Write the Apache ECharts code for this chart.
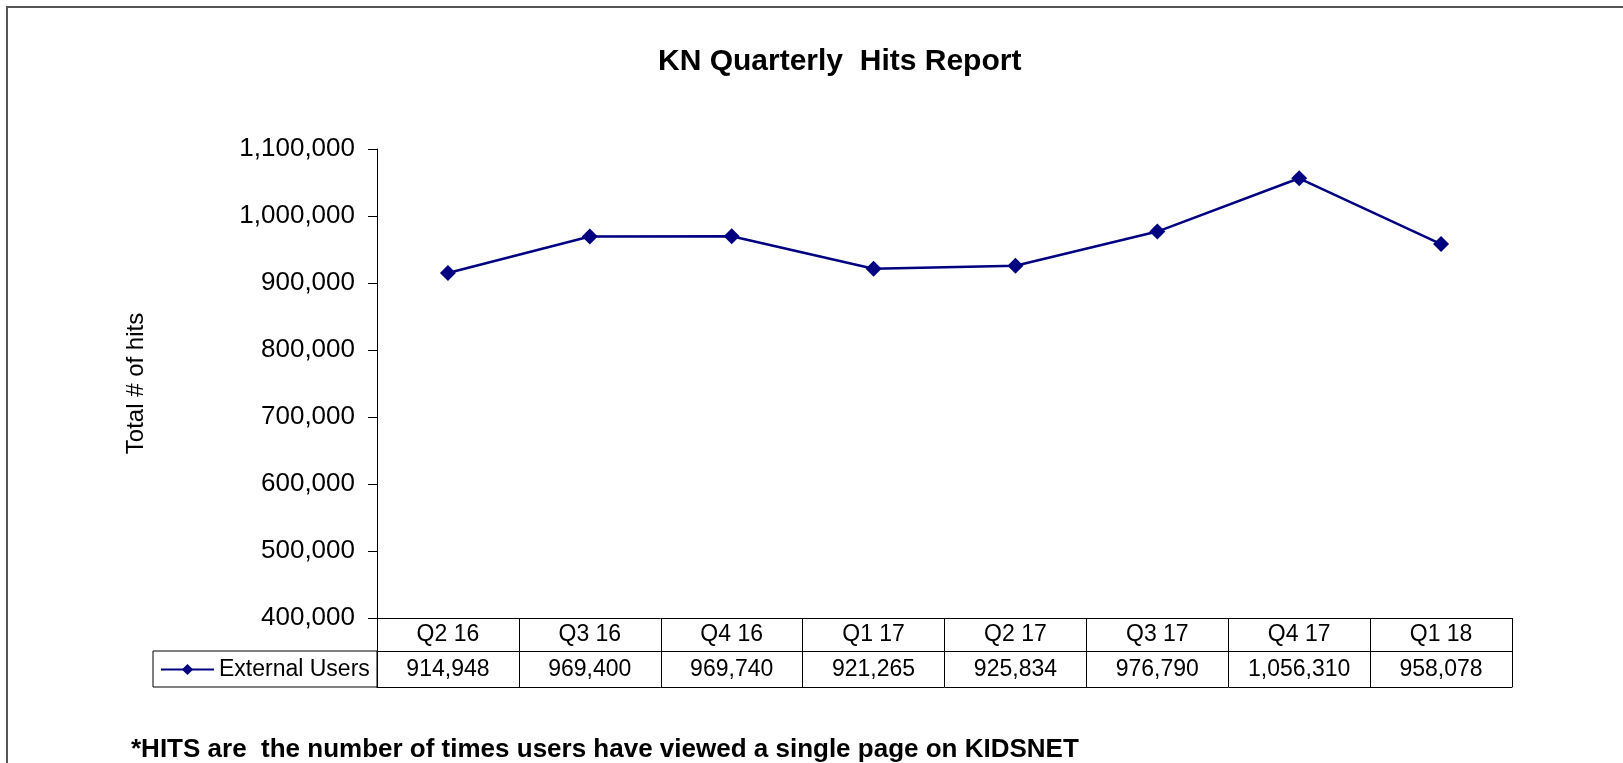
<!DOCTYPE html>
<html>
<head>
<meta charset="utf-8">
<script src="https://cdn.jsdelivr.net/npm/echarts@6/dist/echarts.min.js"></script>
<style>
  html, body { margin: 0; padding: 0; background: #fff; }
  #main { width: 1623px; height: 763px; }
</style>
</head>
<body>
<div id="main"></div>
<script>
const quarters = ['Q2 16', 'Q3 16', 'Q4 16', 'Q1 17', 'Q2 17', 'Q3 17', 'Q4 17', 'Q1 18']
const externalUsers = [914948, 969400, 969740, 921265, 925834, 976790, 1056310, 958078]
const seriesName = 'External Users'
const yMin = 400000
const yMax = 1100000
const yStep = 100000

const font = 'Arial, "Liberation Sans", sans-serif'
const fmt = (v) => v.toLocaleString('en-US')

const chart = echarts.init(document.getElementById('main'))

const option = {
  backgroundColor: '#fff',
  animation: false,
  title: [
    {
      text: 'KN Quarterly  Hits Report',
      left: 653,
      top: 42,
      textStyle: { fontFamily: font, fontSize: 30, fontWeight: 'bold', color: '#000' }
    },
    {
      text: '*HITS are  the number of times users have viewed a single page on KIDSNET',
      left: 126,
      top: 732,
      textStyle: { fontFamily: font, fontSize: 26, fontWeight: 'bold', color: '#000' }
    }
  ],
  legend: {
    data: [seriesName],
    left: 160,
    top: 658,
    padding: 0,
    itemWidth: 53,
    itemHeight: 14,
    textStyle: { fontFamily: font, fontSize: 23, color: '#000' }
  },
  grid: { left: 377, right: 111, top: 149, bottom: 145 },
  xAxis: [
    {
      type: 'category',
      data: quarters,
      position: 'bottom',
      axisLine: { show: true, lineStyle: { color: '#000', width: 1 } },
      axisTick: { show: true, length: 69, lineStyle: { color: '#000', width: 1 } },
      axisLabel: { margin: 5, fontFamily: font, fontSize: 23, color: '#000' }
    },
    {
      type: 'category',
      data: externalUsers.map(fmt),
      position: 'bottom',
      offset: 33,
      axisLine: { show: true, lineStyle: { color: '#000', width: 1 } },
      axisTick: { show: false },
      axisLabel: { margin: 7, fontFamily: font, fontSize: 23, color: '#000' }
    },
    {
      type: 'category',
      data: quarters,
      position: 'bottom',
      offset: 69,
      axisLine: { show: true, lineStyle: { color: '#000', width: 1 } },
      axisTick: { show: false },
      axisLabel: { show: false }
    }
  ],
  yAxis: {
    type: 'value',
    min: yMin,
    max: yMax,
    interval: yStep,
    name: 'Total # of hits',
    nameLocation: 'middle',
    nameRotate: 90,
    nameGap: 229,
    nameTextStyle: { fontFamily: font, fontSize: 24, color: '#000' },
    axisLine: { show: true, lineStyle: { color: '#000', width: 1 } },
    axisTick: { show: true, length: 9, lineStyle: { color: '#000' } },
    splitLine: { show: false },
    axisLabel: {
      margin: 22,
      fontFamily: font,
      fontSize: 26,
      color: '#000',
      formatter: (v) => fmt(v)
    }
  },
  series: [
    {
      name: seriesName,
      type: 'line',
      data: externalUsers,
      symbol: 'diamond',
      symbolSize: [16, 16],
      color: '#000080',
      lineStyle: { color: '#000080', width: 2.5 },
      itemStyle: { color: '#000080' }
    }
  ],
  graphic: [
    {
      type: 'rect',
      shape: { x: 153, y: 651, width: 224, height: 36 },
      style: { fill: null, stroke: '#000', lineWidth: 1 },
      silent: true
    },
    {
      type: 'rect',
      shape: { x: 7, y: 7, width: 1660, height: 800 },
      style: { fill: null, stroke: '#555', lineWidth: 2 },
      silent: true
    }
  ]
}

chart.setOption(option)
</script>
</body>
</html>
